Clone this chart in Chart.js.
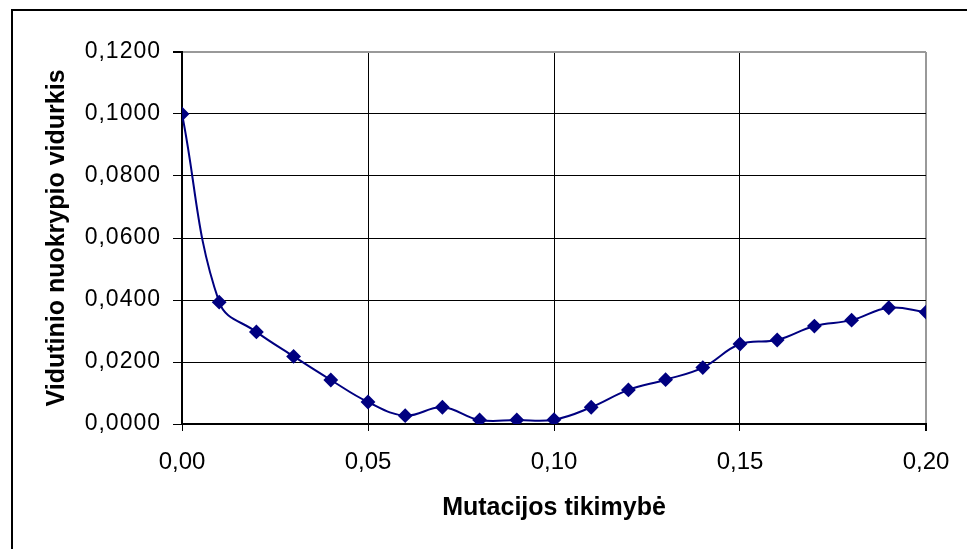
<!DOCTYPE html>
<html>
<head>
<meta charset="utf-8">
<style>
  html, body { margin: 0; padding: 0; background: #fff; }
  #wrap { width: 967px; height: 549px; position: relative; }
</style>
<script src="https://cdn.jsdelivr.net/npm/chart.js@4"></script>
</head>
<body>
<div id="wrap"><canvas id="myChart" width="967" height="549"></canvas></div>
<script>
const mutationProb = [0, 0.01, 0.02, 0.03, 0.04, 0.05, 0.06, 0.07, 0.08, 0.09, 0.10,
                      0.11, 0.12, 0.13, 0.14, 0.15, 0.16, 0.17, 0.18, 0.19, 0.20];
const avgDeviation = [0.1000, 0.0393, 0.0297, 0.0218, 0.0142, 0.0071, 0.0027, 0.0054, 0.0013, 0.0013, 0.0014,
                      0.0054, 0.0110, 0.0143, 0.0182, 0.0258, 0.0271, 0.0316, 0.0335, 0.0375, 0.0361];
const xTickValues = [0, 0.05, 0.10, 0.15, 0.20];
const xTitle = 'Mutacijos tikimybė';
const yTitle = 'Vidutinio nuokrypio vidurkis';

const family = "'Liberation Sans', Arial, sans-serif";
const yTickFont = { family: family, size: 23 };
const xTickFont = { family: family, size: 24 };
const titleFont = { family: family, size: 25, weight: 'bold' };

// outer frame (left + top, runs off the picture)
const framePlugin = {
    id: 'frame',
    beforeDraw(chart) {
        const c = chart.ctx;
        c.save();
        c.fillStyle = '#fff';
        c.fillRect(0, 0, chart.width, chart.height);
        c.strokeStyle = '#000';
        c.lineWidth = 2;
        c.strokeRect(12, 10, 1000, 700);
        c.restore();
    },
    afterLayout(chart) {
        // the y tick labels in the original are spaced out a little
        const ys = chart.scales.y;
        if (ys._spaced) return;
        const orig = ys.drawLabels;
        ys.drawLabels = function (area) {
            const c = this.ctx;
            c.save();
            c.letterSpacing = '1px';
            orig.call(this, area);
            c.restore();
        };
        ys._spaced = true;
    }
};

const points = mutationProb.map((x, i) => ({ x: x, y: avgDeviation[i] }));

new Chart(document.getElementById('myChart'), {
    type: 'line',
    data: {
        datasets: [{
            data: points,
            borderColor: '#000080',
            backgroundColor: '#000080',
            borderWidth: 2,
            tension: 0.4,
            pointStyle: 'rectRot',
            pointRadius: 6,
            pointHoverRadius: 6,
            fill: false
        }]
    },
    options: {
        responsive: false,
        animation: false,
        events: [],
        layout: { padding: { left: 0, top: 52, right: 41, bottom: 0 } },
        plugins: { legend: { display: false }, tooltip: { enabled: false } },
        scales: {
            x: {
                type: 'linear',
                min: 0,
                max: 0.2,
                afterFit: s => { s.height = 125; },
                afterBuildTicks: s => { s.ticks = xTickValues.map(v => ({ value: v })); },
                ticks: {
                    color: '#000',
                    font: xTickFont,
                    padding: 17,
                    maxRotation: 0,
                    callback: v => v.toFixed(2).replace('.', ',')
                },
                grid: {
                    color: ctx => ctx.tick && ctx.tick.value === 0.2 ? '#999' : '#000',
                    lineWidth: ctx => ctx.tick && ctx.tick.value === 0.2 ? 2 : 1,
                    tickColor: '#000',
                    tickLength: 7
                },
                border: { color: '#000', width: 2 },
                title: { display: true, text: xTitle, color: '#000', font: titleFont, padding: { top: 0, bottom: 26 } }
            },
            y: {
                min: 0,
                max: 0.12,
                afterFit: s => { s.width = 182; },
                ticks: {
                    stepSize: 0.02,
                    color: '#000',
                    font: yTickFont,
                    padding: 12,
                    callback: v => v.toFixed(4).replace('.', ',')
                },
                grid: {
                    color: ctx => ctx.tick && Math.abs(ctx.tick.value - 0.12) < 1e-9 ? '#999' : '#000',
                    lineWidth: ctx => ctx.tick && Math.abs(ctx.tick.value - 0.12) < 1e-9 ? 2 : 1,
                    tickColor: '#000',
                    tickLength: 9
                },
                border: { color: '#000', width: 2 },
                title: { display: true, text: yTitle, color: '#000', font: titleFont, padding: { top: 42, bottom: 0 } }
            }
        }
    },
    plugins: [framePlugin]
});
</script>
</body>
</html>
